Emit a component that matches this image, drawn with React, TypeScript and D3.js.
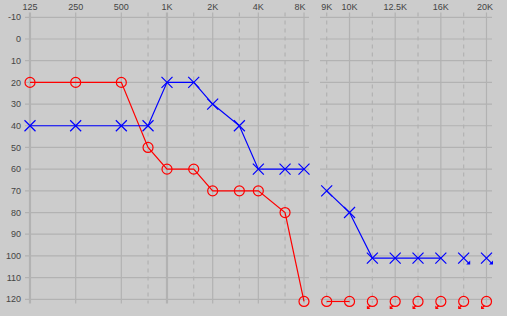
import React from 'react';
import * as d3 from 'd3';

const yTicks = [-10, 0, 10, 20, 30, 40, 50, 60, 70, 80, 90, 100, 110, 120];

const leftFreqs = [125, 250, 500, 750, 1000, 1500, 2000, 3000, 4000, 6000, 8000];
const leftLabeled = [125, 250, 500, 1000, 2000, 4000, 8000];
const leftLabels = ['125', '250', '500', '1K', '2K', '4K', '8K'];
const leftRed = [20, 20, 20, 50, 60, 60, 70, 70, 70, 80, 121];
const leftBlue = [40, 40, 40, 40, 20, 20, 30, 40, 60, 60, 60];

const rightFreqs = ['9K', '10K', '11.2K', '12.5K', '14K', '16K', '18K', '20K'];
const rightLabeled = ['9K', '10K', '12.5K', '16K', '20K'];
const rightDashed = ['9K', '11.2K', '14K', '18K'];
const rightRed = [121, 121, 121, 121, 121, 121, 121, 121];
const rightRedNR = [false, false, true, true, true, true, true, true];
const rightBlue = [70, 80, 101, 101, 101, 101, 101, 101];
const rightBlueNR = [false, false, false, false, false, false, true, true];

const W = 507;
const H = 316;
const BG = '#cccccc';
const GRID = '#b2b2b2';
const TXT = '#444444';
const FONT = '"Liberation Sans", Arial, sans-serif';
const RED = '#ff0000';
const BLUE = '#0000ff';

export default function App() {
  const y = d3.scaleLinear().domain([-10, 120]).range([17.3, 299.3]);
  const xL = d3.scaleLog().base(2).domain([125, 8000]).range([30, 304]);
  const xR = d3.scalePoint<string>().domain(rightFreqs).range([326.7, 486.5]);

  const leftX0 = 25, leftX1 = 309;
  const rightX0 = 320, rightX1 = 492;
  const vTop = 12.5, vBot = 303.5;

  const line = d3.line<[number, number]>().x(d => d[0]).y(d => d[1]);

  const segs = (pts: [number, number][], nr: boolean[]) => {
    const out: [number, number][][] = [];
    let cur: [number, number][] = [];
    pts.forEach((p, i) => {
      if (nr[i]) {
        if (cur.length > 1) out.push(cur);
        cur = [];
      } else {
        cur.push(p);
      }
    });
    if (cur.length > 1) out.push(cur);
    return out;
  };

  const circle = (cx: number, cy: number, nr: boolean, k: string) => (
    <g key={k}>
      <circle cx={cx} cy={cy} r={5} fill="none" stroke={RED} strokeWidth={1.2} />
      {nr && (
        <g>
          <line x1={cx - 2} x2={cx - 4} y1={cy + 4} y2={cy + 6} stroke={RED} strokeWidth={1.2} />
          <path d={`M${cx - 5.5},${cy + 7.5} L${cx - 5.5},${cy + 4} L${cx - 2},${cy + 7.5} Z`} fill={RED} />
        </g>
      )}
    </g>
  );
  const cross = (cx: number, cy: number, nr: boolean, k: string) => (
    <g key={k}>
      <path d={`M${cx - 5.5},${cy - 5.5} L${cx + 5.5},${cy + 5.5} M${cx - 5.5},${cy + 5.5} L${cx + 5.5},${cy - 5.5}`} stroke={BLUE} strokeWidth={1.2} fill="none" />
      {nr && (
        <path d={`M${cx + 6.5},${cy + 6.5} L${cx + 6.5},${cy + 2.5} L${cx + 2.5},${cy + 6.5} Z`} fill={BLUE} />
      )}
    </g>
  );

  const leftRedPts: [number, number][] = leftFreqs.map((f, i) => [xL(f), y(leftRed[i])]);
  const leftBluePts: [number, number][] = leftFreqs.map((f, i) => [xL(f), y(leftBlue[i])]);
  const rightRedPts: [number, number][] = rightFreqs.map((f, i) => [xR(f)!, y(rightRed[i])]);
  const rightBluePts: [number, number][] = rightFreqs.map((f, i) => [xR(f)!, y(rightBlue[i])]);

  return (
    <svg width={W} height={H} style={{ position: 'fixed', left: 0, top: 0, display: 'block' }}>
      <rect x={0} y={0} width={W} height={H} fill={BG} />
      {/* horizontal grid */}
      {yTicks.map(t => (
        <g key={'h' + t}>
          <line x1={leftX0} x2={leftX1} y1={y(t)} y2={y(t)} stroke={GRID} strokeWidth={1.2} />
          <line x1={rightX0} x2={rightX1} y1={y(t)} y2={y(t)} stroke={GRID} strokeWidth={1.2} />
          <text x={21} y={y(t)} dy="0.35em" textAnchor="end" fontSize={9} fontFamily={FONT} fill={TXT}>{t}</text>
        </g>
      ))}
      {/* vertical grid left */}
      {leftFreqs.map(f => {
        const solid = leftLabeled.includes(f);
        const thick = f === 125 || f === 1000;
        return (
          <line key={'vl' + f} x1={xL(f)} x2={xL(f)} y1={vTop} y2={vBot} stroke={GRID}
            strokeWidth={thick ? 2.2 : 1.2} strokeDasharray={solid ? undefined : '4,4'} />
        );
      })}
      {leftLabeled.map((f, i) => (
        <text key={'tl' + f} x={f === 8000 ? xL(f) + 1.5 : xL(f)} y={10}
          textAnchor={f === 8000 ? 'end' : 'middle'} fontSize={9} fontFamily={FONT} fill={TXT}>{leftLabels[i]}</text>
      ))}
      {/* vertical grid right */}
      {rightFreqs.map(f => (
        <line key={'vr' + f} x1={xR(f)} x2={xR(f)} y1={vTop} y2={vBot} stroke={GRID}
          strokeWidth={1.2} strokeDasharray={rightDashed.includes(f) ? '4,4' : undefined} />
      ))}
      {rightLabeled.map(f => (
        <text key={'tr' + f} x={f === '20K' ? xR(f)! - 1.5 : xR(f)} y={10} textAnchor="middle" fontSize={9} fontFamily={FONT} fill={TXT}>{f}</text>
      ))}
      {/* lines */}
      <path d={line(leftRedPts)!} stroke={RED} strokeWidth={1.2} fill="none" />
      <path d={line(leftBluePts)!} stroke={BLUE} strokeWidth={1.2} fill="none" />
      {segs(rightRedPts, rightRedNR).map((s, i) => (
        <path key={'rr' + i} d={line(s)!} stroke={RED} strokeWidth={1.2} fill="none" />
      ))}
      {segs(rightBluePts, rightBlueNR).map((s, i) => (
        <path key={'rb' + i} d={line(s)!} stroke={BLUE} strokeWidth={1.2} fill="none" />
      ))}
      {/* markers */}
      {leftRedPts.map((p, i) => circle(p[0], p[1], false, 'lrc' + i))}
      {leftBluePts.map((p, i) => cross(p[0], p[1], false, 'lbx' + i))}
      {rightRedPts.map((p, i) => circle(p[0], p[1], rightRedNR[i], 'rrc' + i))}
      {rightBluePts.map((p, i) => cross(p[0], p[1], rightBlueNR[i], 'rbx' + i))}
    </svg>
  );
}
